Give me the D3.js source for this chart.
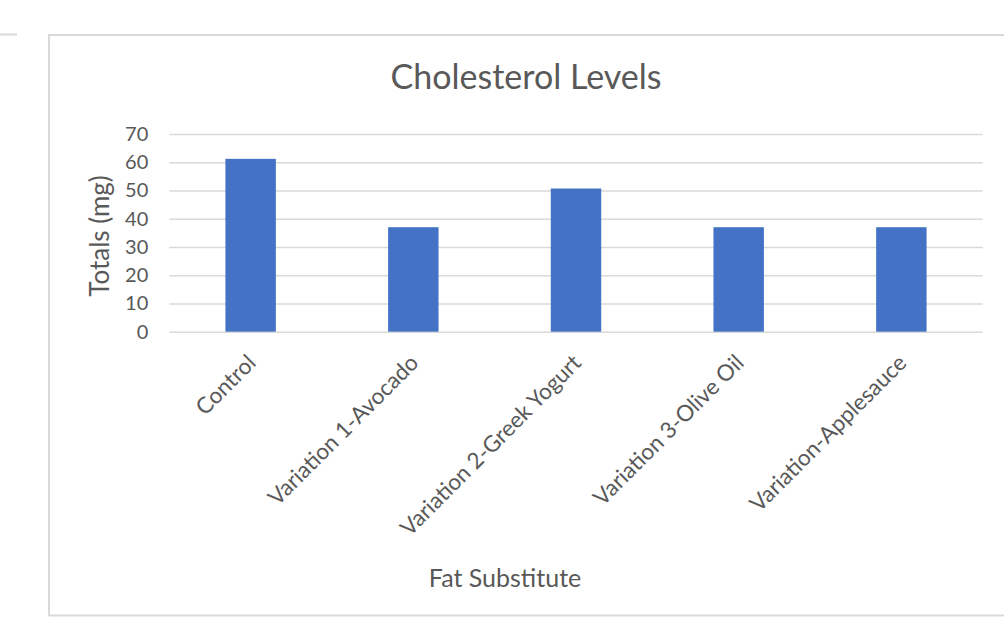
<!DOCTYPE html>
<html>
<head>
<meta charset="utf-8">
<script src="https://cdn.jsdelivr.net/npm/d3@7"></script>
<style>
  html, body { margin: 0; padding: 0; background: #fff; }
  svg { display: block; }
</style>
</head>
<body>
<svg id="chart" width="1004" height="617"></svg>
<script>
// Cholesterol totals per fat substitute (mg)
const categories = ["Control", "Variation 1-Avocado", "Variation 2-Greek Yogurt", "Variation 3-Olive Oil", "Variation-Applesauce"];
const totals = [61.2, 37, 50.7, 37, 37];
const yTicks = [0, 10, 20, 30, 40, 50, 60, 70];

const font = "Lato, 'Open Sans', sans-serif";
const svg = d3.select("#chart");

// chart frame
const frame = svg.append("g").attr("stroke", "#d9d9d9").attr("stroke-width", 2).attr("fill", "none");
frame.append("path").attr("d", "M49,616 V35 H1004");
frame.append("path").attr("d", "M49,615.5 H1004");
frame.append("path").attr("d", "M0,34.5 H17");

const plot = { left: 169.3, right: 982.7, top: 134, bottom: 331.7 };

const x = d3.scaleBand().domain(categories).range([plot.left, plot.right]).paddingInner(0.69).paddingOuter(0.345);
const y = d3.scaleLinear().domain([0, 70]).range([plot.bottom, plot.top]);

// gridlines
svg.append("g")
  .attr("transform", `translate(${plot.left},0)`)
  .call(d3.axisLeft(y).tickValues(yTicks).tickSize(-(plot.right - plot.left)).tickFormat(""))
  .call(g => g.select(".domain").remove())
  .call(g => g.selectAll("line").attr("stroke", "#d9d9d9").attr("stroke-width", 1.5));

// y tick labels
svg.append("g")
  .attr("transform", `translate(${plot.left - 21},0)`)
  .call(d3.axisLeft(y).tickValues(yTicks).tickSize(0).tickPadding(0))
  .call(g => g.select(".domain").remove())
  .call(g => g.selectAll("text").attr("fill", "#595959").style("font-family", font).style("font-size", "20px"));

// bars
svg.append("g").selectAll("rect").data(categories).join("rect")
  .attr("x", d => x(d))
  .attr("width", x.bandwidth())
  .attr("y", (d, i) => y(totals[i]))
  .attr("height", (d, i) => y(0) - y(totals[i]))
  .attr("fill", "#4472c4");

// category labels, rotated
svg.append("g")
  .attr("transform", `translate(0,${plot.bottom + 27})`)
  .call(d3.axisBottom(x).tickSize(0).tickPadding(0))
  .call(g => g.select(".domain").remove())
  .call(g => g.selectAll("text")
    .attr("fill", "#595959")
    .style("font-family", font).style("font-size", "22.5px")
    .attr("text-anchor", "end")
    .attr("dy", "0.35em")
    .attr("transform", "translate(1,0) rotate(-45)"));

// title
svg.append("text")
  .attr("x", 526).attr("y", 89)
  .attr("text-anchor", "middle")
  .attr("fill", "#595959")
  .style("font-family", font).style("font-size", "34px")
  .text("Cholesterol Levels");

// axis titles
svg.append("text")
  .attr("transform", "translate(109,236) rotate(-90)")
  .attr("text-anchor", "middle")
  .attr("fill", "#595959")
  .style("font-family", font).style("font-size", "26px")
  .text("Totals (mg)");

svg.append("text")
  .attr("x", 505).attr("y", 587)
  .attr("text-anchor", "middle")
  .attr("fill", "#595959")
  .style("font-family", font).style("font-size", "25px")
  .text("Fat Substitute");
</script>
</body>
</html>
